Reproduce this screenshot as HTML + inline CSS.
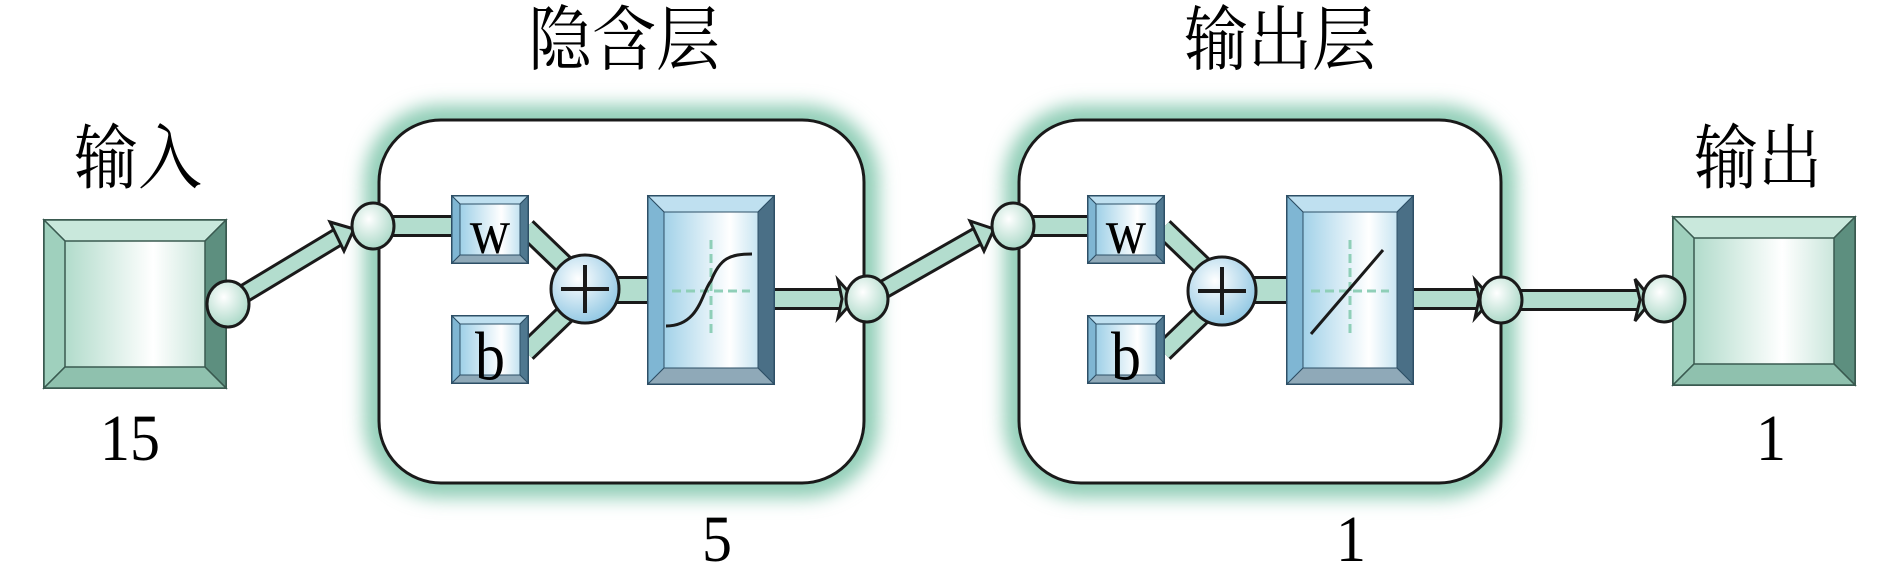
<!DOCTYPE html>
<html><head><meta charset="utf-8"><style>
html,body{margin:0;padding:0;background:#fff;}
svg{display:block;}
text{font-family:"Liberation Serif","Noto Serif CJK SC","Noto Sans CJK SC",serif;fill:#000;}
</style></head><body>
<svg width="1890" height="578" viewBox="0 0 1890 578" xmlns="http://www.w3.org/2000/svg">
<defs>
<linearGradient id="mint" x1="0" x2="1" y1="0" y2="0">
<stop offset="0" stop-color="#9fd3bf"/><stop offset="0.6" stop-color="#ffffff"/><stop offset="1" stop-color="#b5dccd"/>
</linearGradient>
<linearGradient id="blue" x1="0" x2="1" y1="0" y2="0">
<stop offset="0" stop-color="#8cc7e3"/><stop offset="0.65" stop-color="#ffffff"/><stop offset="1" stop-color="#a9d6ea"/>
</linearGradient>
<radialGradient id="circ" cx="0.4" cy="0.35" r="0.7">
<stop offset="0" stop-color="#ffffff"/><stop offset="1" stop-color="#a6d6c4"/>
</radialGradient>
<radialGradient id="bcirc" cx="0.4" cy="0.35" r="0.7">
<stop offset="0" stop-color="#ffffff"/><stop offset="1" stop-color="#8cc5e2"/>
</radialGradient>
<filter id="glow" x="-20%" y="-20%" width="140%" height="140%"><feGaussianBlur stdDeviation="9"/></filter>
</defs>

<!-- labels -->
<g transform="scale(1,1.1)">
<text x="138" y="166" font-size="64" text-anchor="middle">输入</text>
<text x="624" y="58" font-size="64" text-anchor="middle">隐含层</text>
<text x="1280" y="58" font-size="64" text-anchor="middle">输出层</text>
<text x="1758" y="166" font-size="64" text-anchor="middle">输出</text>
<text x="130" y="418" font-size="60" text-anchor="middle">15</text>
<text x="717" y="510" font-size="60" text-anchor="middle">5</text>
<text x="1351" y="510" font-size="60" text-anchor="middle">1</text>
<text x="1771" y="418" font-size="60" text-anchor="middle">1</text>
</g>

<!-- layer boxes with glow -->
<rect x="379" y="120" width="485" height="363" rx="62" fill="none" stroke="#8fcdb6" stroke-width="30" filter="url(#glow)"/>
<rect x="379" y="120" width="485" height="363" rx="62" fill="#fff" stroke="#1a1a1a" stroke-width="3"/>
<rect x="1019" y="120" width="482" height="363" rx="62" fill="none" stroke="#8fcdb6" stroke-width="30" filter="url(#glow)"/>
<rect x="1019" y="120" width="482" height="363" rx="62" fill="#fff" stroke="#1a1a1a" stroke-width="3"/>

<!-- input / output big boxes -->
<g id="bigbox">
<rect x="44" y="220" width="182" height="168" fill="url(#mint)" stroke="#3a5a50" stroke-width="2"/>
<polygon points="44,220 226,220 205,241 65,241" fill="#c9e8dc" stroke="#3a5a50" stroke-width="1.5"/>
<polygon points="44,220 65,241 65,367 44,388" fill="#9fd0bd" stroke="#3a5a50" stroke-width="1.5"/>
<polygon points="226,220 205,241 205,367 226,388" fill="#5d8f7f" stroke="#3a5a50" stroke-width="1.5"/>
<polygon points="44,388 65,367 205,367 226,388" fill="#8fc1ae" stroke="#3a5a50" stroke-width="1.5"/>
</g>
<g transform="translate(1629,-3)">
<rect x="44" y="220" width="182" height="168" fill="url(#mint)" stroke="#3a5a50" stroke-width="2"/>
<polygon points="44,220 226,220 205,241 65,241" fill="#c9e8dc" stroke="#3a5a50" stroke-width="1.5"/>
<polygon points="44,220 65,241 65,367 44,388" fill="#9fd0bd" stroke="#3a5a50" stroke-width="1.5"/>
<polygon points="226,220 205,241 205,367 226,388" fill="#5d8f7f" stroke="#3a5a50" stroke-width="1.5"/>
<polygon points="44,388 65,367 205,367 226,388" fill="#8fc1ae" stroke="#3a5a50" stroke-width="1.5"/>
</g>

<!-- connectors (thick) -->
<g stroke-linecap="butt">
<line x1="227" y1="304" x2="343" y2="234" stroke="#1a1a1a" stroke-width="20"/>
<line x1="227" y1="304" x2="343" y2="234" stroke="#b3ddce" stroke-width="14"/>
<polygon points="330,222 354,229 344,251" fill="#b3ddce" stroke="#1a1a1a" stroke-width="3"/>
<line x1="867" y1="299" x2="983" y2="233" stroke="#1a1a1a" stroke-width="20"/>
<line x1="867" y1="299" x2="983" y2="233" stroke="#b3ddce" stroke-width="14"/>
<polygon points="970,221 994,229 984,251" fill="#b3ddce" stroke="#1a1a1a" stroke-width="3"/>
<line x1="1501" y1="300" x2="1640" y2="300" stroke="#1a1a1a" stroke-width="22"/>
<line x1="1501" y1="300" x2="1640" y2="300" stroke="#b3ddce" stroke-width="16"/>
<polygon points="1635,279 1652,300 1635,321 1640,300" fill="#b3ddce" stroke="#1a1a1a" stroke-width="3"/>
</g>

<!-- layer internals -->
<g id="layer1">
<line x1="373" y1="226" x2="455" y2="226" stroke="#1a1a1a" stroke-width="22"/>
<line x1="373" y1="226" x2="455" y2="226" stroke="#b3ddce" stroke-width="16"/>
<line x1="526" y1="228" x2="580" y2="280" stroke="#1a1a1a" stroke-width="22"/>
<line x1="526" y1="228" x2="580" y2="280" stroke="#b3ddce" stroke-width="16"/>
<line x1="526" y1="352" x2="580" y2="300" stroke="#1a1a1a" stroke-width="22"/>
<line x1="526" y1="352" x2="580" y2="300" stroke="#b3ddce" stroke-width="16"/>
<line x1="610" y1="290" x2="650" y2="290" stroke="#1a1a1a" stroke-width="28"/>
<line x1="610" y1="290" x2="650" y2="290" stroke="#b3ddce" stroke-width="22"/>
<line x1="774" y1="299" x2="842" y2="299" stroke="#1a1a1a" stroke-width="22"/>
<line x1="774" y1="299" x2="842" y2="299" stroke="#b3ddce" stroke-width="16"/>
<polygon points="838,280 855,299 838,318 842,299" fill="#b3ddce" stroke="#1a1a1a" stroke-width="3"/>
</g>
<g transform="translate(637,0)">
<line x1="373" y1="226" x2="455" y2="226" stroke="#1a1a1a" stroke-width="22"/>
<line x1="373" y1="226" x2="455" y2="226" stroke="#b3ddce" stroke-width="16"/>
<line x1="526" y1="228" x2="580" y2="280" stroke="#1a1a1a" stroke-width="22"/>
<line x1="526" y1="228" x2="580" y2="280" stroke="#b3ddce" stroke-width="16"/>
<line x1="526" y1="352" x2="580" y2="300" stroke="#1a1a1a" stroke-width="22"/>
<line x1="526" y1="352" x2="580" y2="300" stroke="#b3ddce" stroke-width="16"/>
<line x1="610" y1="290" x2="650" y2="290" stroke="#1a1a1a" stroke-width="28"/>
<line x1="610" y1="290" x2="650" y2="290" stroke="#b3ddce" stroke-width="22"/>
<line x1="774" y1="299" x2="842" y2="299" stroke="#1a1a1a" stroke-width="22"/>
<line x1="774" y1="299" x2="842" y2="299" stroke="#b3ddce" stroke-width="16"/>
<polygon points="838,280 855,299 838,318 842,299" fill="#b3ddce" stroke="#1a1a1a" stroke-width="3"/>
</g>

<!-- small blue boxes -->
<g id="sb">
<rect x="452" y="196" width="76" height="67" fill="url(#blue)" stroke="#2d4f66" stroke-width="2"/>
<polygon points="452,196 528,196 520,204 460,204" fill="#bfe0f0" stroke="#2d4f66" stroke-width="1"/>
<polygon points="452,196 460,204 460,255 452,263" fill="#7fb6d3" stroke="#2d4f66" stroke-width="1"/>
<polygon points="528,196 520,204 520,255 528,263" fill="#4f7890" stroke="#2d4f66" stroke-width="1"/>
<polygon points="452,263 460,255 520,255 528,263" fill="#8fa9b8" stroke="#2d4f66" stroke-width="1"/>
</g>
<use href="#sb" transform="translate(0,120)"/>
<use href="#sb" transform="translate(636,0)"/>
<use href="#sb" transform="translate(636,120)"/>
<g transform="scale(1,1.15)">
<text x="490" y="220" font-size="56" text-anchor="middle">w</text>
<text x="490" y="330" font-size="60" text-anchor="middle">b</text>
<text x="1126" y="220" font-size="56" text-anchor="middle">w</text>
<text x="1126" y="330" font-size="60" text-anchor="middle">b</text>
</g>

<!-- sum circles -->
<g id="sum">
<circle cx="585" cy="289" r="34" fill="url(#bcirc)" stroke="#1a1a1a" stroke-width="3"/>
<line x1="561" y1="289" x2="609" y2="289" stroke="#1a1a1a" stroke-width="4"/>
<line x1="585" y1="265" x2="585" y2="313" stroke="#1a1a1a" stroke-width="4"/>
</g>
<use href="#sum" transform="translate(637,2)"/>

<!-- transfer boxes -->
<g id="tb">
<rect x="648" y="196" width="126" height="188" fill="url(#blue)" stroke="#2d4f66" stroke-width="2"/>
<polygon points="648,196 774,196 758,212 664,212" fill="#bfe0f0" stroke="#2d4f66" stroke-width="1"/>
<polygon points="648,196 664,212 664,368 648,384" fill="#7fb6d3" stroke="#2d4f66" stroke-width="1"/>
<polygon points="774,196 758,212 758,368 774,384" fill="#4a6f86" stroke="#2d4f66" stroke-width="1"/>
<polygon points="648,384 664,368 758,368 774,384" fill="#8fa9b8" stroke="#2d4f66" stroke-width="1"/>
<line x1="711" y1="240" x2="711" y2="338" stroke="#8fcfb8" stroke-width="3" stroke-dasharray="9,5"/>
<line x1="672" y1="291" x2="750" y2="291" stroke="#8fcfb8" stroke-width="3" stroke-dasharray="9,5"/>
</g>
<use href="#tb" transform="translate(639,0)"/>
<path d="M666,326 C700,326 702,291 711,281 C720,258 730,254 752,254" fill="none" stroke="#1a1a1a" stroke-width="3"/>
<line x1="1311" y1="334" x2="1383" y2="250" stroke="#1a1a1a" stroke-width="3"/>

<!-- small circles -->
<g fill="url(#circ)" stroke="#1a1a1a" stroke-width="3">
<ellipse cx="228" cy="304" rx="21" ry="23"/>
<ellipse cx="373" cy="226" rx="21" ry="23"/>
<ellipse cx="867" cy="299" rx="21" ry="23"/>
<ellipse cx="1013" cy="226" rx="21" ry="23"/>
<ellipse cx="1501" cy="300" rx="21" ry="23"/>
<ellipse cx="1664" cy="299" rx="21" ry="23"/>
</g>
</svg>
</body></html>
